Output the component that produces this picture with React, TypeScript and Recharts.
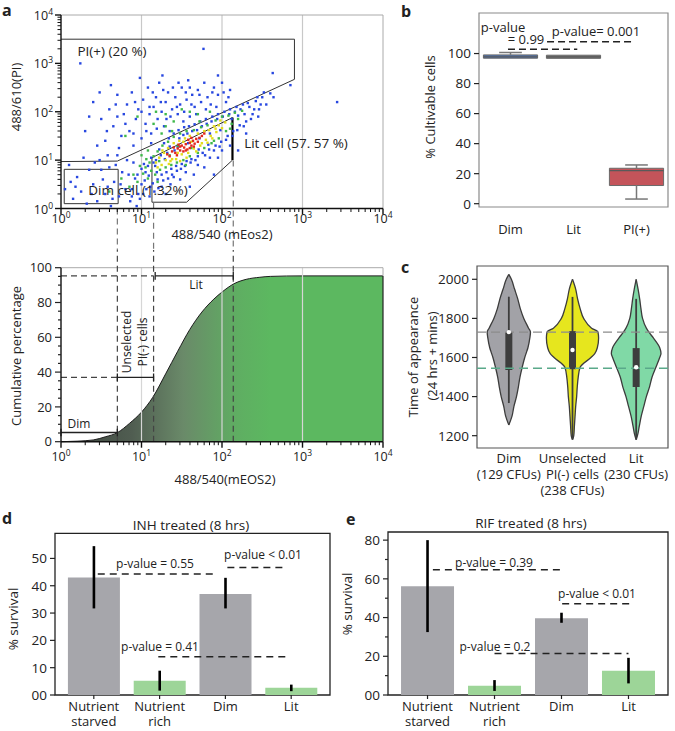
import React from 'react';
import {
  ScatterChart, ComposedChart, Scatter, Area, Bar, Line, Cell, ErrorBar,
  XAxis, YAxis, ReferenceLine, ReferenceArea, ReferenceDot,
} from 'recharts';

const FONT = '"Open Sans", "Noto Sans", sans-serif';
const INK = '#222';

// ---------- panel a (values in log10 units) ----------
const decades = [0, 1, 2, 3, 4];
const minorSteps = [2, 3, 4, 5, 6, 7, 8, 9];

const dotsBlue = [
  [0.88, 0.4], [0.92, 0.62], [0.96, 0.3], [1.0, 0.5], [1.03, 0.92], [1.06, 0.4], [1.09, 0.68], [1.12, 1.05],
  [1.14, 0.52], [1.17, 0.88], [1.2, 0.6], [1.22, 1.22], [1.25, 0.7], [1.28, 1.35], [1.31, 0.75], [1.34, 1.45],
  [1.37, 0.82], [1.4, 1.55], [1.43, 0.88], [1.46, 1.62], [1.5, 0.92], [1.53, 1.68], [1.56, 0.98], [1.59, 1.7],
  [1.62, 1.02], [1.66, 1.74], [1.7, 1.08], [1.73, 1.8], [1.76, 1.15], [1.8, 1.85], [1.84, 1.22], [1.88, 1.9],
  [1.92, 1.3], [1.95, 1.95], [1.99, 1.38], [2.03, 2.0], [2.07, 1.5], [2.1, 2.05], [2.14, 1.6], [2.18, 2.1],
  [2.22, 1.72], [2.26, 2.15], [2.3, 1.8], [2.34, 2.1], [2.38, 1.95], [2.42, 2.22], [2.46, 2.05], [2.5, 2.3],
  [2.55, 2.15], [2.6, 2.38], [2.64, 2.3], [2.28, 1.95], [2.2, 1.92], [2.12, 1.85], [1.98, 1.62], [1.85, 1.55],
  [1.72, 1.45], [1.58, 1.35], [1.45, 1.28], [1.32, 1.15], [1.18, 1.0], [1.05, 0.75], [0.98, 0.2], [1.1, 0.25],
  [1.25, 0.45], [1.4, 0.65], [1.55, 0.75], [1.7, 0.9], [1.85, 1.05], [2.0, 1.2], [1.3, 0.3], [1.6, 0.45],
  [1.9, 0.7], [2.2, 1.2],
  [0.95, 0.7], [1.0, 0.82], [1.04, 0.58], [1.08, 0.88], [1.11, 0.45], [1.15, 0.95], [1.19, 0.75], [1.21, 0.42],
  [1.24, 1.1], [1.27, 0.58], [1.29, 1.02], [1.33, 0.62], [1.35, 1.28], [1.38, 0.7], [1.41, 1.2], [1.44, 0.78],
  [1.47, 1.45], [1.49, 0.82], [1.52, 1.52], [1.54, 0.88], [1.57, 1.55], [1.61, 0.95], [1.63, 1.6], [1.67, 1.0],
  [1.69, 1.62], [1.71, 1.22], [1.75, 1.7], [1.79, 1.1], [1.81, 1.75], [1.83, 1.32], [1.87, 1.8], [1.9, 1.2],
  [1.94, 1.85], [1.97, 1.28], [2.01, 1.9], [2.05, 1.42], [2.09, 1.95], [2.13, 1.5], [2.16, 2.0], [2.19, 1.62],
  [2.23, 2.05], [2.27, 1.7], [2.32, 2.18], [2.36, 1.85], [2.4, 2.05], [2.44, 2.3], [2.48, 2.15], [2.52, 2.4],
  [1.02, 0.3], [1.16, 0.35], [1.36, 0.5], [1.48, 0.6], [1.65, 0.7], [1.78, 0.85], [1.95, 1.05], [2.1, 1.3],
  [2.3, 1.55], [2.45, 1.9],
  [0.3, 1.6], [0.4, 2.2], [0.5, 1.85], [0.55, 1.4], [0.6, 2.05], [0.65, 1.7], [0.7, 2.35], [0.72, 1.25],
  [0.78, 1.95], [0.82, 2.15], [0.85, 1.6], [0.88, 2.4], [0.9, 1.3], [0.93, 1.85], [0.96, 2.05], [1.0, 1.45],
  [1.02, 2.25], [1.05, 1.75], [1.08, 2.5], [1.1, 1.95], [1.12, 1.55], [1.15, 2.1], [1.18, 2.3], [1.2, 1.85],
  [1.22, 2.6], [1.25, 2.0], [1.28, 1.7], [1.3, 2.2], [1.33, 2.4], [1.36, 1.9], [1.38, 2.05], [1.42, 2.3],
  [1.45, 1.95], [1.48, 2.15], [1.5, 2.5], [1.53, 2.0], [1.56, 2.25], [1.6, 1.9], [1.63, 2.35], [1.66, 2.1],
  [1.7, 2.45], [1.74, 2.2], [1.78, 2.6], [1.82, 2.3], [1.86, 2.15], [1.9, 2.5], [1.95, 2.35], [2.0, 2.6],
  [2.05, 2.2], [2.1, 2.45], [0.45, 1.3], [0.62, 2.55], [0.98, 2.7], [1.26, 2.75], [1.58, 2.65], [1.35, 1.6],
  [1.12, 1.35], [0.75, 1.5], [0.58, 1.1], [1.95, 2.75],
  [0.35, 1.9], [0.48, 2.4], [0.57, 1.6], [0.68, 2.15], [0.8, 1.75], [0.92, 2.2], [1.0, 2.0], [1.06, 1.6],
  [1.14, 2.4], [1.19, 1.65], [1.24, 2.2], [1.31, 1.85], [1.39, 2.5], [1.44, 2.1], [1.52, 1.8], [1.55, 2.4],
  [1.62, 2.15], [1.68, 1.95], [1.72, 2.35], [1.8, 2.05], [1.88, 2.4], [1.93, 2.1], [2.02, 2.4], [2.08, 2.3],
  [0.9, 1.55], [1.27, 2.45], [1.46, 2.6], [1.6, 2.5], [1.1, 2.1], [0.7, 1.9],
  [0.05, 0.4], [0.1, 0.9], [0.15, 0.2], [0.2, 0.65], [0.25, 0.35], [0.32, 0.1], [0.35, 0.8], [0.4, 0.5],
  [0.45, 0.15], [0.48, 1.0], [0.52, 0.6], [0.55, 0.3], [0.6, 0.85], [0.62, 0.05], [0.66, 0.55], [0.7, 1.1],
  [0.72, 0.25], [0.76, 0.75], [0.8, 0.4], [0.82, 1.0], [0.86, 0.15], [0.9, 0.95], [0.94, 0.05], [0.28, 1.05],
  [0.12, 0.55], [0.18, 0.45], [0.38, 0.3], [0.5, 0.8], [0.58, 0.45], [0.68, 0.9], [0.74, 0.5], [0.84, 0.7],
  [0.88, 0.25], [0.42, 0.95], [0.64, 0.2],
  [1.77, 3.3], [2.63, 2.8], [3.43, 2.2], [2.85, 2.55], [0.24, 3.0],
];
const dotsGreen = [
  [1.02, 0.72], [1.05, 0.85], [1.08, 0.62], [1.1, 0.95], [1.12, 0.78], [1.15, 1.08], [1.17, 0.7], [1.2, 1.18],
  [1.23, 0.8], [1.26, 1.3], [1.3, 0.85], [1.33, 1.38], [1.37, 0.9], [1.4, 1.48], [1.44, 0.95], [1.48, 1.55],
  [1.52, 1.0], [1.56, 1.6], [1.6, 1.08], [1.65, 1.62], [1.7, 1.15], [1.74, 1.68], [1.78, 1.25], [1.82, 1.72],
  [1.87, 1.35], [1.92, 1.82], [1.96, 1.45], [2.0, 1.9], [2.05, 1.6], [2.08, 1.92], [2.12, 1.75], [2.16, 1.98],
  [2.2, 1.85], [0.95, 0.55], [0.9, 0.7], [0.98, 0.88], [1.06, 1.02], [0.85, 0.45], [1.3, 1.95], [1.5, 2.05],
  [1.15, 1.75], [1.7, 1.95], [0.8, 1.5], [1.4, 1.8], [0.6, 0.35], [0.75, 0.62], [1.25, 1.55], [2.25, 2.02],
  [1.35, 1.1], [1.62, 1.25], [1.08, 1.2], [1.2, 0.55], [1.38, 1.6], [1.55, 0.9], [1.72, 1.8], [1.9, 1.4],
  [2.1, 1.65], [1.0, 1.1], [1.3, 1.7], [1.6, 2.0], [1.85, 2.0], [1.45, 1.3], [1.22, 0.98], [0.95, 1.9],
  [1.18, 2.0],
];
const dotsYellow = [
  [1.18, 0.95], [1.22, 1.05], [1.25, 0.9], [1.28, 1.15], [1.3, 1.0], [1.33, 1.25], [1.36, 0.98], [1.4, 1.35],
  [1.43, 1.02], [1.47, 1.4], [1.5, 1.12], [1.54, 1.45], [1.58, 1.15], [1.6, 1.5], [1.65, 1.24], [1.7, 1.55],
  [1.73, 1.3], [1.78, 1.6], [1.8, 1.42], [1.84, 1.62], [1.86, 1.5], [1.9, 1.7], [1.93, 1.58], [1.96, 1.72],
  [2.0, 1.66], [2.04, 1.78], [1.26, 1.2], [1.56, 1.05], [1.68, 1.18], [1.82, 1.36], [1.2, 0.85], [1.34, 0.92],
  [1.88, 1.45], [1.48, 0.98], [1.98, 1.82], [1.45, 1.15], [1.62, 1.38], [1.75, 1.35], [1.52, 1.38], [1.38, 1.02],
  [1.92, 1.65],
];
const dotsRed = [
  [1.32, 1.12], [1.38, 1.18], [1.42, 1.15], [1.45, 1.24], [1.48, 1.2], [1.5, 1.3], [1.53, 1.26], [1.55, 1.33],
  [1.57, 1.22], [1.6, 1.36], [1.62, 1.3], [1.64, 1.4], [1.66, 1.34], [1.68, 1.44], [1.7, 1.38], [1.72, 1.46],
  [1.75, 1.5], [1.4, 1.26], [1.46, 1.32], [1.52, 1.18], [1.58, 1.42], [1.35, 1.08], [1.78, 1.55], [1.62, 1.46],
  [1.44, 1.1], [1.55, 1.2], [1.65, 1.28], [1.48, 1.28], [1.6, 1.25],
];

const gatePI = [[0, 3.5], [2.9, 3.5], [2.9, 2.67], [0.7, 0.98], [0, 0.97]];
const gateDim = [[0.04, 0.81], [0.71, 0.81], [0.71, 0.1], [0.04, 0.1], [0.04, 0.81]];
const gateLit = [[2.13, 1.0], [1.56, 0.13], [1.13, 0.13], [1.13, 1.05], [2.13, 1.88]];
const litEdge = [[2.13, 1.88], [2.13, 1.0]];
const cutoffs = [0.7, 1.15, 2.14];
const cutoffTops = [0, 0.12, 0.99];

const cumLogX = [0, 0.2, 0.4, 0.55, 0.7, 0.85, 1.0, 1.14, 1.3, 1.45, 1.6, 1.75, 1.9, 2.0, 2.15, 2.3, 2.47, 2.6, 3.0, 4.0];
const cumPct = [0, 0.3, 1.0, 2.8, 5.2, 10.5, 17, 25.5, 39, 52, 64.5, 74.5, 82, 86, 90.8, 93.3, 94.5, 95, 95.3, 95.3];
const cumTicks = [0, 5, 10, 15, 20, 25, 30, 35, 40, 45, 50, 55, 60, 65, 70, 75, 80, 85, 90, 95, 100];
const cumMajors = [0, 20, 40, 60, 80, 100];

// ---------- panel b ----------
const boxCats = ['Dim', 'Lit', 'PI(+)'];
const boxLo = [96.9, 96.8, 3.1];
const boxQ1 = [96.9, 96.8, 12.1];
const boxMed = [97.8, 97.8, 22];
const boxQ3 = [99.1, 98.9, 23.6];
const boxHi = [100.7, 98.9, 25.8];
const boxFill = ['#4c72b0', '#707070', '#c4545a'];
const boxTicks = [0, 20, 40, 60, 80, 100];

// ---------- panel c ----------
const violinLabels = [['Dim', '(129 CFUs)'], ['Unselected', 'PI(-) cells', '(238 CFUs)'], ['Lit', '(230 CFUs)']];
const violinT = [1180, 1200, 1250, 1255, 1300, 1350, 1400, 1450, 1500, 1550, 1600, 1620, 1650, 1700, 1730, 1750, 1800, 1850, 1900, 1950, 2000, 2025];
const dimHalf = [null, null, null, 0, 0.05, 0.08, 0.12, 0.15, 0.175, 0.21, 0.25, 0.27, 0.3, 0.33, 0.34, 0.31, 0.235, 0.18, 0.14, 0.09, 0.04, 0];
const unsHalf = [0, 0.02, 0.03, null, 0.04, 0.05, 0.065, 0.075, 0.09, 0.12, 0.29, 0.35, 0.39, 0.41, 0.4, 0.3, 0.175, 0.12, 0.08, 0.05, 0, null];
const litHalf = [0, 0.02, 0.05, null, 0.08, 0.12, 0.16, 0.21, 0.25, 0.31, 0.37, 0.39, 0.37, 0.27, 0.2, 0.16, 0.1, 0.075, 0.055, 0.03, 0, null];
const vQ1 = [1536, 1540, 1449];
const vQ3 = [1730, 1735, 1648];
const vMed = [1730, 1638, 1550];
const vLo = [1367, 1180, 1180];
const vHi = [1911, 1910, 1900];
const vFill = ['#a2a2a7', '#e6e61e', '#80d9a6'];
const violinTicks = [1200, 1400, 1600, 1800, 2000];

// ---------- panels d, e ----------
const survLabels = [['Nutrient', 'starved'], ['Nutrient', 'rich'], ['Dim'], ['Lit']];
const survFill = ['#a6a6ab', '#9dd598', '#a6a6ab', '#9dd598'];
const inhMean = [43, 5.2, 37, 2.7];
const inhLow = [31.7, 1.6, 31.7, 1.4];
const inhHigh = [54.5, 8.9, 42.9, 3.8];
const rifMean = [56.2, 4.8, 39.7, 12.5];
const rifLow = [32.5, 2.1, 37.3, 6.0];
const rifHigh = [80, 7.7, 42.5, 19.2];
const inhDash = [[0.06, 1.86, 44.3], [2.03, 2.94, 46.7], [0.98, 2.97, 14.0]];
const rifDash = [[0.08, 2.0, 64.7], [2.01, 3.03, 47.1], [1.0, 3.0, 21.4]];

const logTicks = decades.flatMap((d) => (d < 4 ? [d, ...minorSteps.map((m) => d + Math.log10(m))] : [d]));
const pairs = (pts: number[][]) => pts.map(([x, y]) => ({ x, y }));
const segs = (pts: number[][]) => pts.slice(1).map((p, i) => [pts[i], p]);

const dot = (color: string) => (p: any) => <rect x={p.cx - 1.2} y={p.cy - 1.2} width={2.4} height={2.4} fill={color} />;

const LogTick = ({ x, y, payload, side, gap = 15 }: any) => {
  const v = payload.value;
  const major = Number.isInteger(v);
  const len = major ? 6 : 3.5;
  if (side === 'x') {
    return (
      <g>
        <line x1={x} x2={x} y1={y} y2={y + len} stroke="#111" strokeWidth={major ? 1.4 : 1} />
        {major && (
          <text x={x} y={y + gap} textAnchor="middle" fontSize={12.5} fill={INK}>
            10<tspan dy={-5} fontSize={8.5}>{v}</tspan>
          </text>
        )}
      </g>
    );
  }
  return (
    <g>
      <line x1={x} x2={x - len} y1={y} y2={y} stroke="#111" strokeWidth={major ? 1.4 : 1} />
      {major && (
        <text x={x - 8} y={y + 5} textAnchor="end" fontSize={12.5} fill={INK}>
          10<tspan dy={-5} fontSize={8.5}>{v}</tspan>
        </text>
      )}
    </g>
  );
};

const YTick = ({ x, y, payload, majors, fmt, size = 13, major = 5, minor = 3 }: any) => {
  const v = payload.value;
  const isMajor = majors.includes(v);
  return (
    <g>
      <line x1={x} x2={x - (isMajor ? major : minor)} y1={y} y2={y} stroke="#222" strokeWidth={1.2} />
      {isMajor && (
        <text x={x - major - 3} y={y} dy="0.36em" textAnchor="end" fontSize={size} fill={INK}>
          {fmt ? fmt(v) : v}
        </text>
      )}
    </g>
  );
};

const CatTick = ({ x, y, payload, labels, first = 15, gap = 16, size = 13, tick = 0 }: any) => {
  const lines: string[] = labels[payload.value] || [];
  return (
    <g>
      {tick > 0 && <line x1={x} x2={x} y1={y} y2={y + tick} stroke="#222" strokeWidth={1.2} />}
      {lines.map((l, i) => (
        <text key={i} x={x} y={y + first + i * gap} textAnchor="middle" fontSize={size} fill={INK}>{l}</text>
      ))}
    </g>
  );
};

const Txt = ({ x, y, children, size = 13, rot = 0, bold = false, anchor = 'middle' }: any) => {
  const tx = anchor === 'start' ? '0' : '-50%';
  return (
    <div
      style={{
        position: 'absolute', left: x, top: y, transform: `translate(${tx}, -50%) rotate(${rot}deg)`,
        fontSize: size, fontWeight: bold ? 700 : 400, whiteSpace: 'nowrap', lineHeight: 1, color: INK,
      }}
    >
      {children}
    </div>
  );
};

function ScatterPanel() {
  return (
    <ScatterChart width={400} height={250} margin={{ top: 15, right: 17, left: 0, bottom: 0 }}>
      <XAxis type="number" dataKey="x" domain={[0, 4]} ticks={logTicks} interval={0} height={41.5}
        tickSize={0} tickMargin={0} axisLine={{ stroke: '#111', strokeWidth: 1.4 }} tick={<LogTick side="x" gap={14} />} allowDataOverflow />
      <YAxis type="number" dataKey="y" domain={[0, 4]} ticks={logTicks} interval={0} width={61}
        tickSize={0} tickMargin={0} axisLine={{ stroke: '#111', strokeWidth: 1.4 }} tick={<LogTick side="y" />} allowDataOverflow />
      {[1, 2, 3].map((g) => <ReferenceLine key={g} x={g} stroke="#c8c8c8" strokeWidth={1.2} />)}
      <ReferenceLine y={4} stroke="#aaa" />
      <ReferenceLine x={4} stroke="#aaa" />
      <Scatter data={pairs(dotsBlue)} shape={dot('#2747e0')} isAnimationActive={false} />
      <Scatter data={pairs(dotsGreen)} shape={dot('#3fb84a')} isAnimationActive={false} />
      <Scatter data={pairs(dotsYellow)} shape={dot('#e2dc1c')} isAnimationActive={false} />
      <Scatter data={pairs(dotsRed)} shape={dot('#e3281c')} isAnimationActive={false} />
      {[gatePI, gateDim, gateLit].flatMap((g, gi) =>
        segs(g).map(([a, b], i) => (
          <ReferenceLine key={`g${gi}-${i}`} segment={[{ x: a[0], y: a[1] }, { x: b[0], y: b[1] }]} stroke="#333" strokeWidth={1} />
        )),
      )}
      <ReferenceLine segment={[{ x: litEdge[0][0], y: litEdge[0][1] }, { x: litEdge[1][0], y: litEdge[1][1] }]} stroke="#000" strokeWidth={2.2} />
      {cutoffs.map((c, i) => (
        <ReferenceLine key={`c${i}`} segment={[{ x: c, y: cutoffTops[i] }, { x: c, y: -1 }]} stroke="#777" strokeWidth={1.2}
          strokeDasharray="6 4" ifOverflow="visible" />
      ))}
    </ScatterChart>
  );
}

function CumPanel() {
  const rows = cumLogX.map((lx, i) => ({ lx, pct: cumPct[i] }));
  const plateau = cumPct[cumPct.length - 1];
  const bars = [[1.17, 2.14, plateau], [0.7, 1.15, 37], [0, 0.7, 5.3]];
  return (
    <ComposedChart width={400} height={215} data={rows} margin={{ top: 17.7, right: 17, left: 0, bottom: 0 }}>
      <defs>
        <linearGradient id="cumGrad" x1="0" y1="0" x2="1" y2="0">
          <stop offset="0" stopColor="#3c443d" />
          <stop offset="0.22" stopColor="#505d51" />
          <stop offset="0.38" stopColor="#6a8a69" />
          <stop offset="0.55" stopColor="#5fae62" />
          <stop offset="0.65" stopColor="#5cb860" />
          <stop offset="1" stopColor="#5cb860" />
        </linearGradient>
      </defs>
      <XAxis type="number" dataKey="lx" domain={[0, 4]} ticks={logTicks} interval={0} height={23.3}
        tickSize={0} tickMargin={0} axisLine={{ stroke: '#111', strokeWidth: 1.4 }} tick={<LogTick side="x" gap={19} />} />
      <YAxis type="number" domain={[0, 100]} ticks={cumTicks} interval={0} width={61} tickSize={0} tickMargin={0}
        axisLine={{ stroke: '#111', strokeWidth: 1.4 }} tick={<YTick majors={cumMajors} size={13} major={6} minor={3} />} />
      <Area type="monotone" dataKey="pct" stroke="#1d1d1d" strokeWidth={1} fill="url(#cumGrad)" fillOpacity={1}
        dot={false} activeDot={false} isAnimationActive={false} />
      {[1, 2, 3].map((g) => <ReferenceLine key={g} x={g} stroke="#d6d6d6" strokeWidth={1.2} />)}
      <ReferenceLine y={100} stroke="#aaa" />
      <ReferenceLine segment={[{ x: 4, y: plateau }, { x: 4, y: 100 }]} stroke="#aaa" />
      <ReferenceLine segment={[{ x: 4, y: 0 }, { x: 4, y: plateau }]} stroke="#222" strokeWidth={1.2} />
      {cutoffs.map((c, i) => (
        <ReferenceLine key={`c${i}`} segment={[{ x: c, y: 0 }, { x: c, y: 112 }]} stroke="#444" strokeWidth={1.2}
          strokeDasharray="6 4" ifOverflow="visible" />
      ))}
      <ReferenceLine segment={[{ x: 0, y: plateau }, { x: cutoffs[1], y: plateau }]} stroke="#444" strokeWidth={1.2} strokeDasharray="6 4" />
      <ReferenceLine segment={[{ x: 0, y: 37 }, { x: cutoffs[0], y: 37 }]} stroke="#444" strokeWidth={1.2} strokeDasharray="6 4" />
      {bars.map(([a, b, y], i) => (
        <React.Fragment key={`b${i}`}>
          <ReferenceLine segment={[{ x: a, y }, { x: b, y }]} stroke="#222" strokeWidth={1.3} />
          <ReferenceLine segment={[{ x: a, y: y - 2.2 }, { x: a, y: y + 2.2 }]} stroke="#222" strokeWidth={1.3} ifOverflow="visible" />
          <ReferenceLine segment={[{ x: b, y: y - 2.2 }, { x: b, y: y + 2.2 }]} stroke="#222" strokeWidth={1.3} ifOverflow="visible" />
        </React.Fragment>
      ))}
    </ComposedChart>
  );
}

function BoxPanel() {
  const rows = boxCats.map((_, i) => ({ i, med: boxMed[i] }));
  const hw = 0.43;
  const cw = 0.18;
  return (
    <ComposedChart width={275} height={250} data={rows} margin={{ top: 13, right: 7, left: 0, bottom: 0 }}>
      <XAxis type="number" dataKey="i" domain={[-0.5, 2.5]} ticks={[0, 1, 2]} interval={0} height={43}
        tickSize={0} tickMargin={0} axisLine={false} tick={<CatTick labels={boxCats.map((c) => [c])} first={27} />} />
      <YAxis type="number" domain={[-2.2, 127]} ticks={boxTicks} interval={0} width={79} tickSize={0} tickMargin={0}
        axisLine={false} tick={<YTick majors={boxTicks} size={13.5} major={5} />} allowDataOverflow />
      <ReferenceArea x1={-0.5} x2={2.5} y1={-2.2} y2={127} fill="none" stroke="#8a8a8a" strokeWidth={1.2} fillOpacity={0} />
      <Line dataKey="med" stroke="none" dot={false} activeDot={false} isAnimationActive={false} />
      {boxCats.map((_, i) => (
        <React.Fragment key={i}>
          <ReferenceLine segment={[{ x: i, y: boxLo[i] }, { x: i, y: boxQ1[i] }]} stroke="#777" strokeWidth={1.5} />
          <ReferenceLine segment={[{ x: i, y: boxQ3[i] }, { x: i, y: boxHi[i] }]} stroke="#777" strokeWidth={1.5} />
          {boxLo[i] < boxQ1[i] && <ReferenceLine segment={[{ x: i - cw, y: boxLo[i] }, { x: i + cw, y: boxLo[i] }]} stroke="#777" strokeWidth={1.5} />}
          {boxHi[i] > boxQ3[i] && <ReferenceLine segment={[{ x: i - cw, y: boxHi[i] }, { x: i + cw, y: boxHi[i] }]} stroke="#777" strokeWidth={1.5} />}
          <ReferenceArea x1={i - hw} x2={i + hw} y1={boxQ1[i]} y2={boxQ3[i]} fill={boxFill[i]} fillOpacity={1} stroke="#6a6a6a" strokeWidth={1} />
          <ReferenceLine segment={[{ x: i - hw, y: boxMed[i] }, { x: i + hw, y: boxMed[i] }]} stroke="#5a5a5a" strokeWidth={1.2} />
        </React.Fragment>
      ))}
      <ReferenceLine segment={[{ x: -0.04, y: 102.9 }, { x: 1.06, y: 102.9 }]} stroke="#222" strokeWidth={1.5} strokeDasharray="7 4" />
      <ReferenceLine segment={[{ x: 0.58, y: 107.9 }, { x: 1.94, y: 107.9 }]} stroke="#222" strokeWidth={1.5} strokeDasharray="7 4" />
    </ComposedChart>
  );
}

function ViolinPanel() {
  const sets = [dimHalf, unsHalf, litHalf].map((h, k) =>
    violinT.flatMap((t, r) => (h[r] === null ? [] : [{ t, v: [k - (h[r] as number), k + (h[r] as number)] }])),
  );
  return (
    <ComposedChart layout="vertical" width={275} height={250} margin={{ top: 16, right: 7, left: 0, bottom: 0 }}>
      <XAxis type="number" domain={[-0.5, 2.5]} ticks={[0, 1, 2]} interval={0} height={52} tickSize={0} tickMargin={0}
        axisLine={false} tick={<CatTick labels={violinLabels} first={15} gap={16} />} allowDataOverflow />
      <YAxis type="number" dataKey="t" domain={[1137, 2068]} ticks={violinTicks} interval={0} width={77} tickSize={0}
        tickMargin={0} axisLine={false} reversed tick={<YTick majors={violinTicks} size={13.5} major={5} />} allowDataOverflow />
      <ReferenceArea x1={-0.5} x2={2.5} y1={1137} y2={2068} fill="none" fillOpacity={0} stroke="#555" strokeWidth={1.2} />
      {sets.map((d, i) => (
        <Area key={i} data={d} type="monotone" dataKey="v" stroke="#3c3c3c" strokeWidth={1.3} fill={vFill[i]} fillOpacity={1}
          dot={false} activeDot={false} isAnimationActive={false} />
      ))}
      {sets.map((_, i) => (
        <React.Fragment key={`in${i}`}>
          <ReferenceLine segment={[{ x: i, y: vLo[i] }, { x: i, y: vHi[i] }]} stroke="#3d3d3d" strokeWidth={1.8} />
          <ReferenceLine segment={[{ x: i, y: vQ1[i] }, { x: i, y: vQ3[i] }]} stroke="#3d3d3d" strokeWidth={7} />
          <ReferenceDot x={i} y={vMed[i]} r={2.2} fill="#fff" stroke="none" />
        </React.Fragment>
      ))}
      <ReferenceLine y={1730} stroke="#8c8c8c" strokeWidth={1.3} strokeDasharray="9 5" />
      <ReferenceLine y={1545} stroke="#5aa98a" strokeWidth={1.3} strokeDasharray="9 5" />
    </ComposedChart>
  );
}

function SurvivalPanel({ mean, low, high, dashes, yMax, ticks, majors, top, right, yWidth, barSize }: any) {
  const rows = mean.map((m: number, i: number) => ({ i, mean: m, err: [m - low[i], high[i] - m] }));
  return (
    <ComposedChart width={340} height={231} data={rows} margin={{ top, right, left: 0, bottom: 0 }}>
      <XAxis type="number" dataKey="i" domain={[-0.59, 3.59]} ticks={[0, 1, 2, 3]} interval={0} height={36}
        tickSize={0} tickMargin={0} axisLine={false} tick={<CatTick labels={survLabels} first={16} gap={15} tick={4} size={13} />} allowDataOverflow />
      <YAxis type="number" domain={[0, yMax]} ticks={ticks} interval={0} width={yWidth} tickSize={0} tickMargin={0}
        axisLine={false} tick={<YTick majors={majors} size={13.5} major={5} minor={3} fmt={(v: number) => (v === 0 ? '00' : String(v))} />} allowDataOverflow />
      <Bar dataKey="mean" barSize={barSize} isAnimationActive={false}>
        {rows.map((_: any, i: number) => <Cell key={i} fill={survFill[i]} />)}
        <ErrorBar dataKey="err" width={0} stroke="#000" strokeWidth={2.6} direction="y" />
      </Bar>
      <ReferenceArea x1={-0.59} x2={3.59} y1={0} y2={yMax} fill="none" fillOpacity={0} stroke="#222" strokeWidth={1.3} />
      {dashes.map(([a, b, y]: number[], k: number) => (
        <ReferenceLine key={k} segment={[{ x: a, y }, { x: b, y }]} stroke="#222" strokeWidth={1.5} strokeDasharray="7 5" />
      ))}
    </ComposedChart>
  );
}

export default function App() {
  return (
    <div style={{ position: 'absolute', left: 0, top: 0, width: 675, height: 731, background: '#fff', fontFamily: FONT, overflow: 'hidden' }}>
      <div style={{ position: 'absolute', left: 0, top: 0 }}><ScatterPanel /></div>
      <div style={{ position: 'absolute', left: 0, top: 250 }}><CumPanel /></div>
      <div style={{ position: 'absolute', left: 400, top: 0 }}><BoxPanel /></div>
      <div style={{ position: 'absolute', left: 400, top: 250 }}><ViolinPanel /></div>
      <div style={{ position: 'absolute', left: 0, top: 500 }}>
        <SurvivalPanel mean={inhMean} low={inhLow} high={inhHigh} dashes={inhDash} yMax={59.2}
          ticks={[0, 10, 20, 30, 40, 50]} majors={[0, 10, 20, 30, 40, 50]} top={33.3} right={10} yWidth={55} barSize={52} />
      </div>
      <div style={{ position: 'absolute', left: 335, top: 500 }}>
        <SurvivalPanel mean={rifMean} low={rifLow} high={rifHigh} dashes={rifDash} yMax={84.2}
          ticks={[0, 10, 20, 30, 40, 50, 60, 70, 80]} majors={[0, 20, 40, 60, 80]} top={32} right={7} yWidth={53} barSize={53} />
      </div>

      <Txt x={2} y={10} size={16} bold anchor="start">a</Txt>
      <Txt x={401} y={11} size={16} bold anchor="start">b</Txt>
      <Txt x={401} y={267} size={16} bold anchor="start">c</Txt>
      <Txt x={2} y={518} size={16} bold anchor="start">d</Txt>
      <Txt x={346} y={519} size={16} bold anchor="start">e</Txt>

      <Txt x={16} y={97} rot={-90}>488/610(PI)</Txt>
      <Txt x={222} y={234}>488/540 (mEos2)</Txt>
      <Txt x={112} y={52} size={13.5}>PI(+) (20 %)</Txt>
      <Txt x={296} y={144} size={13.5}>Lit cell (57. 57 %)</Txt>
      <Txt x={138} y={191} size={13.5}>Dim cell (1.32%)</Txt>

      <Txt x={16} y={356} rot={-90}>Cumulative percentage</Txt>
      <Txt x={225} y={479}>488/540(mEOS2)</Txt>
      <Txt x={196} y={285} size={12}>Lit</Txt>
      <Txt x={79} y={424} size={12}>Dim</Txt>
      <Txt x={127} y={342} size={12} rot={-90}>Unselected</Txt>
      <Txt x={143} y={342} size={12} rot={-90}>PI(-) cells</Txt>

      <Txt x={430} y={107} rot={-90}>% Cultivable cells</Txt>
      <Txt x={503} y={27}>p-value</Txt>
      <Txt x={526} y={39}>= 0.99</Txt>
      <Txt x={596} y={31}>p-value= 0.001</Txt>

      <Txt x={413} y={357} rot={-90}>Time of appearance</Txt>
      <Txt x={432} y={356} rot={-90}>(24 hrs + mins)</Txt>

      <Txt x={191} y={526} size={13.5}>INH treated (8 hrs)</Txt>
      <Txt x={14} y={619} rot={-90} size={13.5}>% survival</Txt>
      <Txt x={155} y={564} size={12}>p-value = 0.55</Txt>
      <Txt x={263} y={555} size={12}>p-value &lt; 0.01</Txt>
      <Txt x={160} y={647} size={12}>p-value = 0.41</Txt>

      <Txt x={531} y={524} size={13.5}>RIF treated (8 hrs)</Txt>
      <Txt x={348} y={604} rot={-90} size={13.5}>% survival</Txt>
      <Txt x={494} y={563} size={12}>p-value = 0.39</Txt>
      <Txt x={597} y={594} size={12}>p-value &lt; 0.01</Txt>
      <Txt x={495} y={647} size={12}>p-value = 0.2</Txt>
    </div>
  );
}
